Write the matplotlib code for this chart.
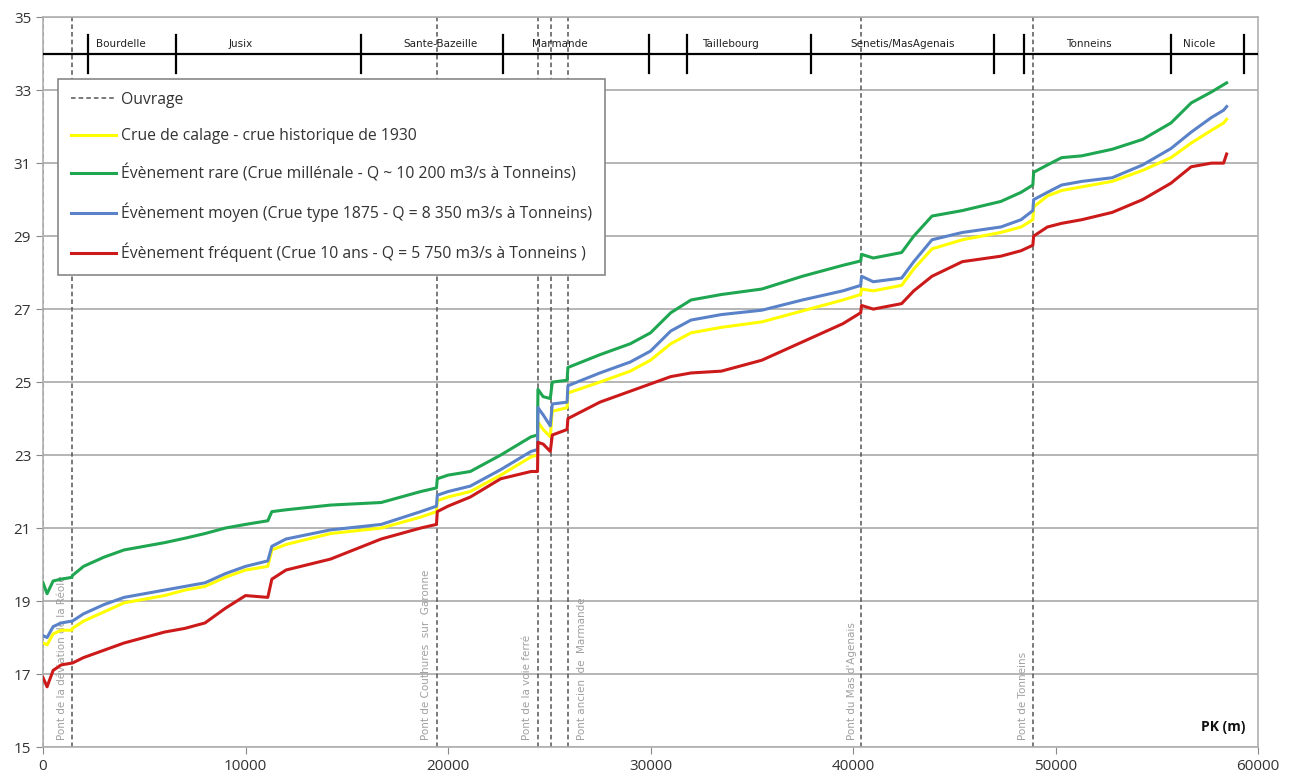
import matplotlib
matplotlib.use("Agg")
import matplotlib.pyplot as plt
from matplotlib.lines import Line2D

# ---------------- data ----------------
pk = [0, 200, 500, 900, 1430, 1450, 2000, 3000, 4000, 5000, 6000, 7000, 8000, 9000,
      10000, 11100, 11300, 12000, 14200, 16700, 18650, 19430, 19470, 20000, 21100,
      22600, 24100, 24420, 24440, 24700, 25050, 25150, 25880, 25920, 27500, 29000,
      30000, 31000, 32000, 33500, 35500, 37500, 39500, 40380, 40420, 41000, 42400,
      43000, 43900, 45400, 47300, 48300, 48880, 48920, 49600, 50300, 51300, 52800,
      54300, 55700, 56700, 57700, 58300, 58450]

rare = [19.5, 19.2, 19.55, 19.6, 19.65, 19.7, 19.95, 20.2, 20.4, 20.5, 20.6, 20.72, 20.85, 21.0,
        21.1, 21.2, 21.45, 21.5, 21.63, 21.7, 22.0, 22.1, 22.35, 22.45, 22.55,
        23.0, 23.5, 23.55, 24.8, 24.6, 24.55, 25.0, 25.05, 25.4, 25.75, 26.05,
        26.35, 26.9, 27.25, 27.4, 27.55, 27.9, 28.2, 28.32, 28.5, 28.4, 28.55,
        29.0, 29.55, 29.7, 29.95, 30.2, 30.4, 30.75, 30.95, 31.15, 31.2, 31.38,
        31.65, 32.1, 32.65, 32.95, 33.15, 33.2]

moyen = [18.05, 18.0, 18.3, 18.4, 18.45, 18.45, 18.65, 18.9, 19.1, 19.2, 19.3, 19.4, 19.5, 19.75,
         19.95, 20.1, 20.5, 20.7, 20.95, 21.1, 21.45, 21.6, 21.9, 22.0, 22.15,
         22.6, 23.1, 23.15, 24.3, 24.1, 23.8, 24.4, 24.45, 24.9, 25.25, 25.55,
         25.85, 26.4, 26.7, 26.85, 26.97, 27.25, 27.5, 27.65, 27.9, 27.75, 27.85,
         28.3, 28.9, 29.1, 29.25, 29.45, 29.7, 30.0, 30.2, 30.4, 30.5, 30.6,
         30.95, 31.4, 31.85, 32.25, 32.45, 32.55]

calage = [17.85, 17.8, 18.1, 18.2, 18.2, 18.25, 18.45, 18.7, 18.95, 19.05, 19.15, 19.3, 19.4, 19.65,
          19.85, 19.95, 20.4, 20.55, 20.85, 21.0, 21.3, 21.45, 21.75, 21.85, 22.0,
          22.45, 22.95, 23.0, 23.9, 23.7, 23.5, 24.2, 24.3, 24.7, 25.0, 25.3,
          25.6, 26.05, 26.35, 26.5, 26.65, 26.95, 27.25, 27.4, 27.55, 27.5, 27.65,
          28.1, 28.65, 28.9, 29.1, 29.25, 29.45, 29.8, 30.1, 30.25, 30.35, 30.5,
          30.8, 31.15, 31.55, 31.9, 32.1, 32.2]

frequent = [16.9, 16.65, 17.1, 17.25, 17.3, 17.3, 17.45, 17.65, 17.85, 18.0, 18.15, 18.25, 18.4, 18.8,
            19.15, 19.1, 19.6, 19.85, 20.15, 20.7, 21.0, 21.1, 21.45, 21.6, 21.85,
            22.35, 22.55, 22.55, 23.35, 23.3, 23.1, 23.55, 23.7, 24.0, 24.45, 24.75,
            24.95, 25.15, 25.25, 25.3, 25.6, 26.1, 26.6, 26.9, 27.1, 27.0, 27.15,
            27.5, 27.9, 28.3, 28.45, 28.6, 28.75, 29.0, 29.25, 29.35, 29.45, 29.65,
            30.0, 30.45, 30.9, 31.0, 31.0, 31.25]

ouvrages_pk = [0, 1430, 19450, 24430, 25080, 25910, 40400, 48900]
ouvrage_labels = ["Pont de la déviation de la Réole", "Pont de Couthures  sur  Garonne",
                  "Pont de la voie ferré", "Pont ancien  de  Marmande",
                  "Pont du Mas d'Agenais", "Pont de Tonneins"]
ouvrage_label_pk = [940, 18890, 23890, 26610, 39960, 48370]

commune_bounds = [2230, 6580, 15680, 22700, 29920, 31800, 37930, 46980, 48420, 55690, 59300]
communes = ["Bourdelle", "Jusix", "Sante-Bazeille", "Marmande", "Taillebourg",
            "Senetis/MasAgenais", "Tonneins", "Nicole"]
commune_label_pk = [3850, 9750, 19650, 25500, 33950, 42450, 51650, 57100]

series_labels = ["Crue de calage - crue historique de 1930",
                 "Évènement rare (Crue millénale - Q ~ 10 200 m3/s à Tonneins)",
                 "Évènement moyen (Crue type 1875 - Q = 8 350 m3/s à Tonneins)",
                 "Évènement fréquent (Crue 10 ans - Q = 5 750 m3/s à Tonneins )"]

# ---------------- figure ----------------
plt.rcParams['font.family'] = ['Open Sans', 'DejaVu Sans']
fig = plt.figure(figsize=(12.92, 7.8), dpi=100)
ax = fig.add_axes([0.0333, 0.0423, 0.9404, 0.9357])
ax.set_xlim(0, 60000)
ax.set_ylim(15, 35)
ax.set_yticks(range(15, 36, 2))
ax.set_xticks(range(0, 60001, 10000))
ax.yaxis.grid(True, color='#b0b0b0', linewidth=1.3)
ax.set_axisbelow(True)
for s in ax.spines.values():
    s.set_color('#b0b0b0')
    s.set_linewidth(1.2)
ax.tick_params(axis='both', colors='#888888', labelcolor='#333333', labelsize=11, length=5)

# ouvrages
for x in ouvrages_pk:
    ax.axvline(x, color='#555555', linestyle=(0, (3, 2)), linewidth=1.1, zorder=1)
for x, t in zip(ouvrage_label_pk, ouvrage_labels):
    ax.text(x, 15.2, t, rotation=90, ha='center', va='bottom', fontsize=7.5,
            color='#a0a0a0', family=['Liberation Sans Narrow', 'DejaVu Sans'])

# communes band
ax.plot([0, 60000], [34, 34], color='black', linewidth=1.6, zorder=3)
for b in commune_bounds:
    ax.plot([b, b], [33.48, 34.52], color='black', linewidth=1.6, zorder=3)
for x, t in zip(commune_label_pk, communes):
    ax.text(x, 34.12, t, ha='center', va='bottom', fontsize=7.5, color='#222222',
            family=['Liberation Sans Narrow', 'DejaVu Sans'])

# series
l1, = ax.plot(pk, calage, color='#ffff00', linewidth=2.2, zorder=4)
l2, = ax.plot(pk, rare, color='#1fa651', linewidth=2.2, zorder=5)
l3, = ax.plot(pk, moyen, color='#5a82c8', linewidth=2.2, zorder=5)
l4, = ax.plot(pk, frequent, color='#cc1a1a', linewidth=2.2, zorder=5)

ax.text(59400, 15.35, "PK (m)", ha='right', va='bottom', fontsize=10, fontweight='bold',
        color='#111111')

ouv = Line2D([], [], color='#555555', linestyle=(0, (3, 2)), linewidth=1.1)
leg = ax.legend([ouv, l1, l2, l3, l4], ["Ouvrage"] + series_labels,
                loc='upper left', bbox_to_anchor=(0.0125, 0.915), fontsize=11.3,
                frameon=True, fancybox=False, framealpha=1, edgecolor='#888888',
                labelspacing=1.3, handlelength=2.9, handletextpad=0.3,
                borderpad=0.8, borderaxespad=0)
leg.get_frame().set_linewidth(1.2)
leg.set_zorder(10)
for t in leg.get_texts():
    t.set_color('#333333')

fig.savefig('out.png', dpi=100)
